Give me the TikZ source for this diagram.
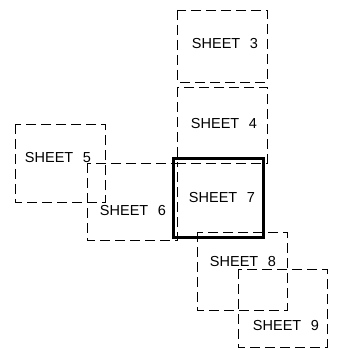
\documentclass[tikz,border=0pt]{standalone}
\usepackage{fontspec}
\setmainfont[WordSpace=2.4]{Liberation Sans}

\begin{document}
\begin{tikzpicture}[x=1pt,y=-1pt]
\tikzstyle{sheet}=[draw,line width=0.8pt,dash pattern=on 10pt off 5pt]
\tikzstyle{keysheet}=[draw,line width=3pt]
\tikzstyle{sheetlabel}=[font=\fontsize{14.5}{16}\selectfont,inner sep=0pt]
\useasboundingbox (0,0) rectangle (343,350);

% sheet outlines
\draw[sheet] (177,10) rectangle (267,82);
\draw[sheet] (177,87) rectangle (267,163);
\draw[sheet] (15,124) rectangle (105,202);
\draw[sheet] (87,163) rectangle (177,240);
\draw[sheet] (197,232) rectangle (287,310);
\draw[sheet] (238,269) rectangle (327,347);
% current sheet
\draw[keysheet] (173,158) rectangle (263,237);

% labels
\node[sheetlabel] (sheet3) at (225,44) {SHEET 3};
\node[sheetlabel] (sheet4) at (224,124) {SHEET 4};
\node[sheetlabel] (sheet5) at (58,158) {SHEET 5};
\node[sheetlabel] (sheet6) at (133,211) {SHEET 6};
\node[sheetlabel] (sheet7) at (222,198) {SHEET 7};
\node[sheetlabel] (sheet8) at (243,262) {SHEET 8};
\node[sheetlabel] (sheet9) at (286,326) {SHEET 9};
\end{tikzpicture}
\end{document}
